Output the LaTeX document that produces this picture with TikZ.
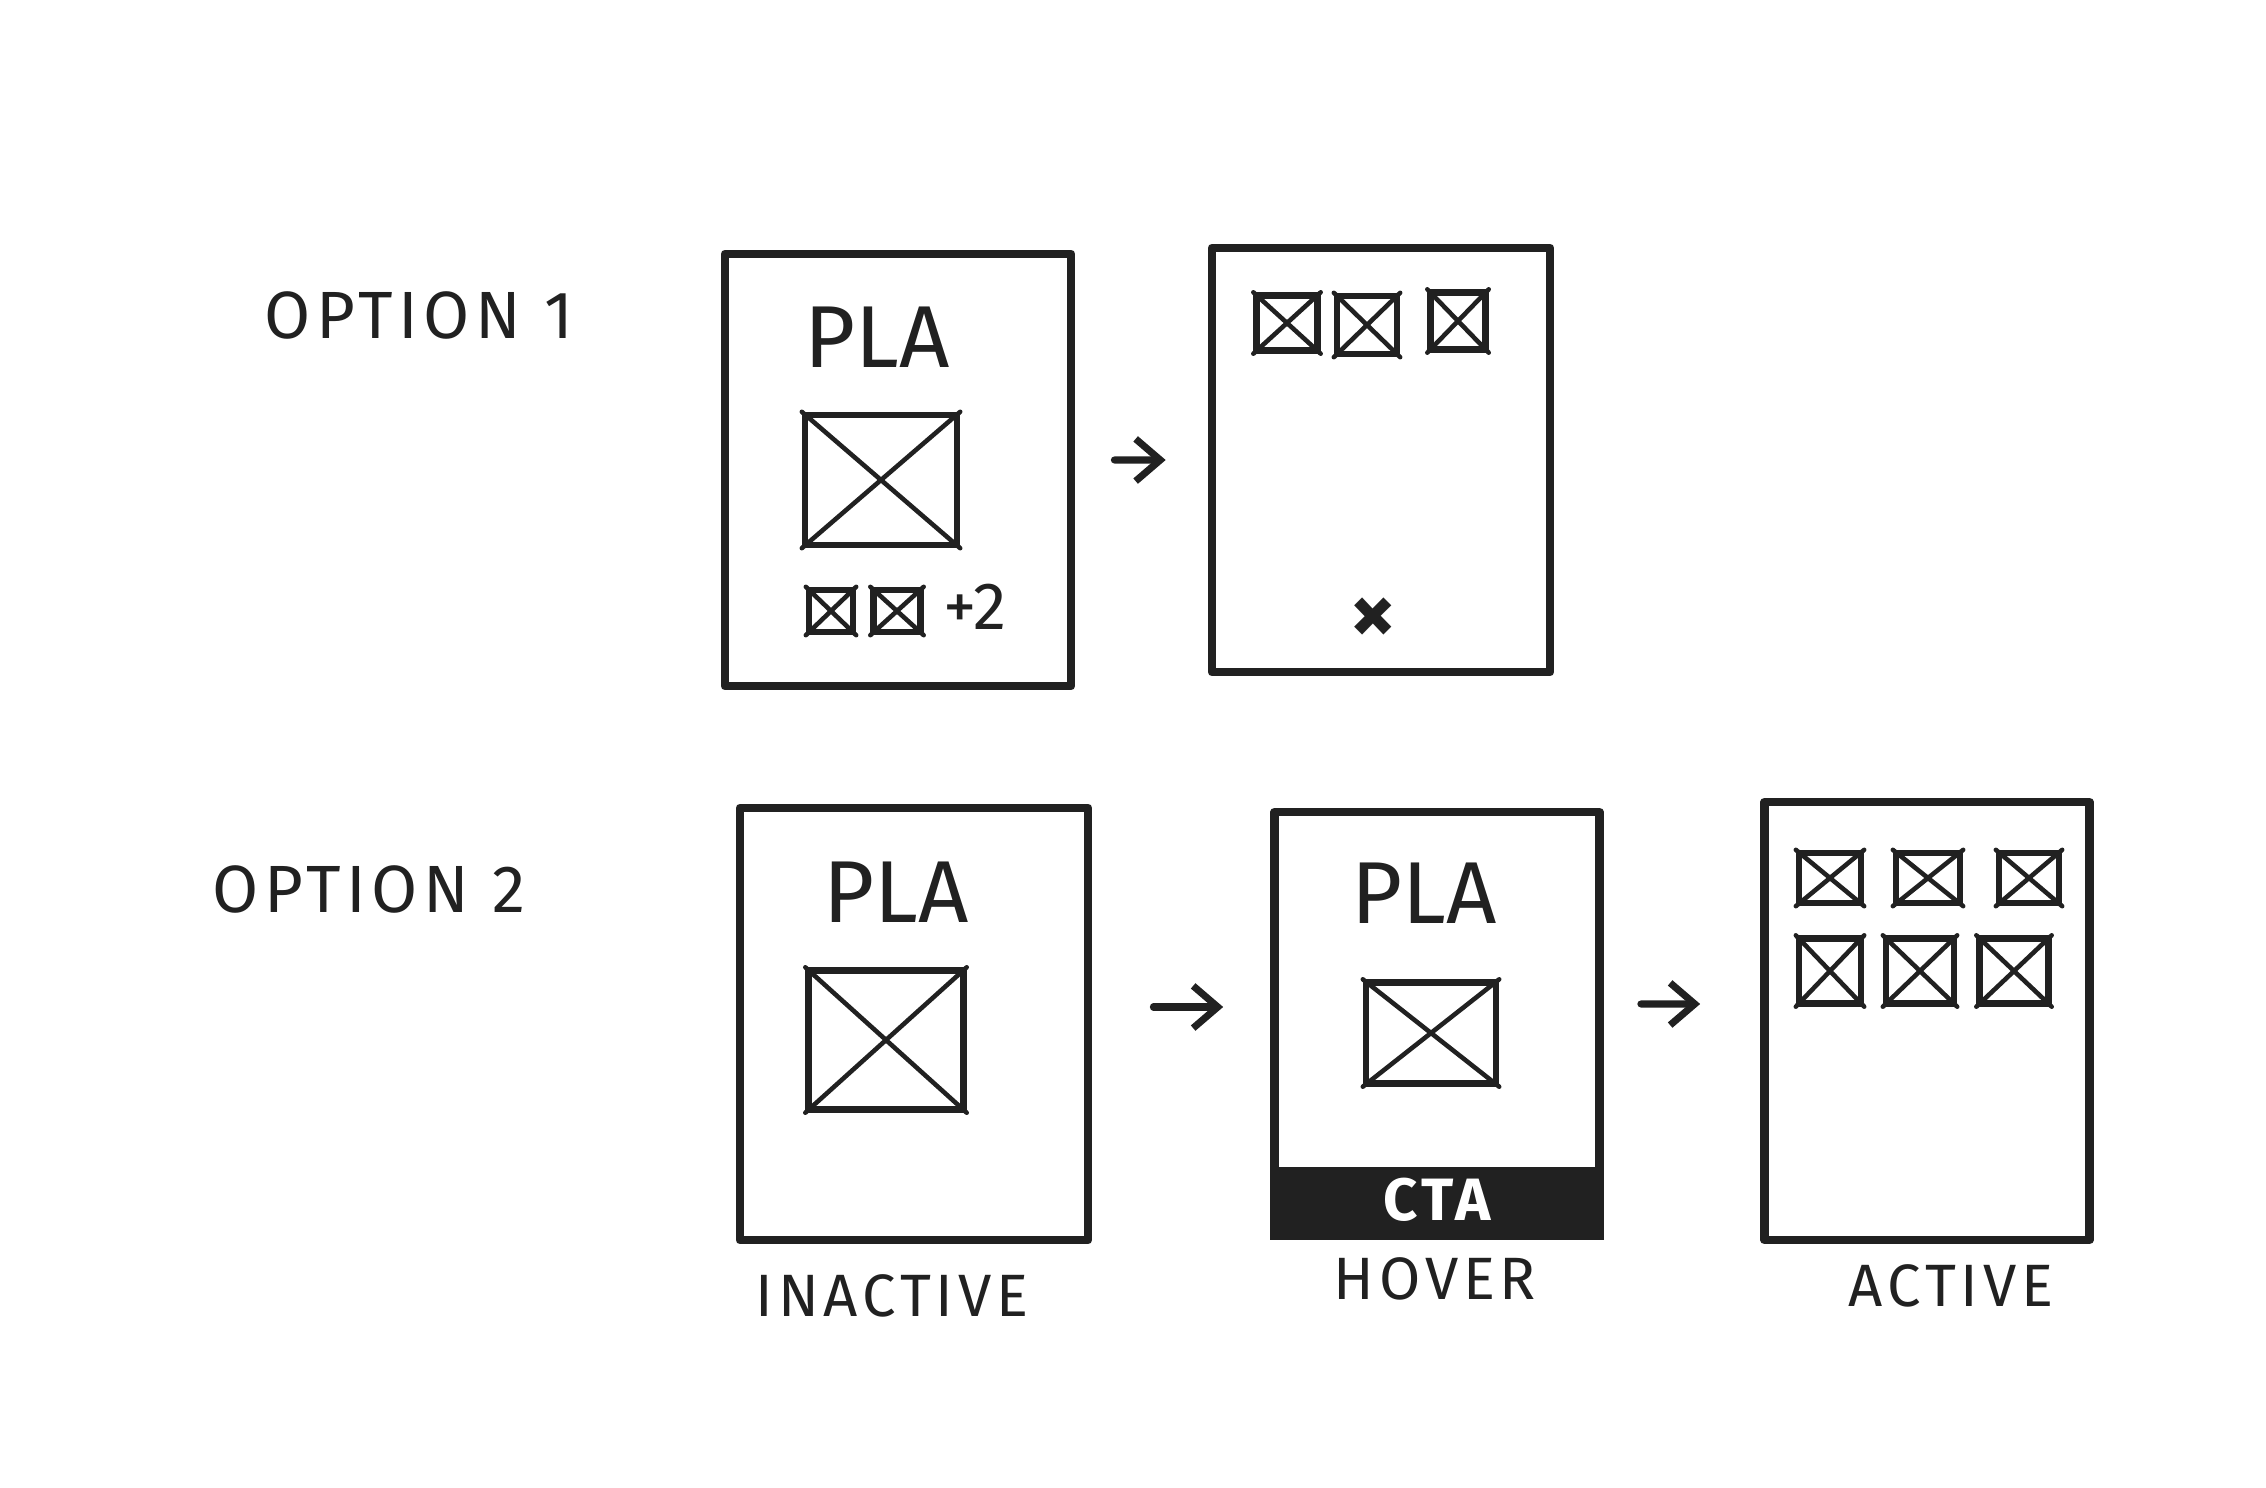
\documentclass[tikz,border=0pt]{standalone}
\usepackage{fontspec}
\setmainfont{Fira Sans}
\newfontfamily\hand[LetterSpace=8]{Fira Sans}
\usetikzlibrary{arrows.meta}
\definecolor{ink}{gray}{0.13}
\newcommand{\phbox}[5]{%
  \node[ph,minimum width=#4cm,minimum height=#5cm] (#1) at (#2,#3) {};
  \draw[phx] (#1.north west) -- (#1.south east) (#1.north east) -- (#1.south west);}
\begin{document}
\begin{tikzpicture}[x=0.01cm,y=-0.01cm,
  card/.style={draw=ink,line width=2.4pt,line join=round,inner sep=0pt,rectangle},
  ph/.style={draw=ink,line width=1.8pt,line join=round,inner sep=0pt,rectangle},
  phx/.style={draw=ink,line width=1.3pt,line cap=round},
  arr/.style={draw=ink,line width=2pt,line cap=round,-{Straight Barb[length=7pt,width=12pt,line width=2pt]}},
  optlbl/.style={text=ink,font=\hand\fontsize{19}{22}\selectfont},
  statelbl/.style={text=ink,font=\hand\fontsize{17}{20}\selectfont},
  pla/.style={text=ink,font=\fontsize{25}{28}\selectfont}]
\useasboundingbox (0,0) rectangle (2266,1488);

% labels
\node[optlbl] (opt1) at (419,315) {OPTION 1};
\node[optlbl] (opt2) at (369,889) {OPTION 2};

% option 1
\node[card,minimum width=3.46cm,minimum height=4.32cm] (c1) at (898,470) {};
\node[pla] (pla1) at (877,337) {PLA};
\phbox{img1}{881}{480}{1.52}{1.30}
\phbox{s11}{831}{611}{0.44}{0.42}
\phbox{s12}{897}{611}{0.47}{0.42}
\node[text=ink,font=\fontsize{19}{21}\selectfont] (more) at (975,607) {+2};

\node[card,minimum width=3.38cm,minimum height=4.24cm] (c2) at (1381,460) {};
\phbox{t1}{1287}{323}{0.61}{0.55}
\phbox{t2}{1367}{325}{0.60}{0.58}
\phbox{t3}{1458}{321}{0.55}{0.57}
\node[text=ink,font=\bfseries\fontsize{26}{28}\selectfont] (close) at (1373,621) {×};

\draw[arr] ([xshift=0.39cm,yshift=0.1cm]c1.east) -- ([xshift=-0.42cm]c2.west);

% option 2
\node[card,minimum width=3.48cm,minimum height=4.32cm] (c3) at (914,1024) {};
\node[pla] (pla3) at (896,892) {PLA};
\phbox{img3}{886}{1040}{1.55}{1.39}

\node[card,minimum width=3.25cm,minimum height=4.24cm] (c4) at (1437,1024) {};
\fill[ink] (c4.south west) rectangle ([yshift=0.73cm]c4.south east);
\node[text=white,font=\hand\bfseries\fontsize{17}{20}\selectfont] (cta) at (1437,1200) {CTA};
\node[pla] (pla4) at (1424,893) {PLA};
\phbox{img4}{1431}{1033}{1.30}{1.01}

\node[card,minimum width=3.25cm,minimum height=4.38cm] (c5) at (1927,1021) {};
\phbox{g1}{1830}{878}{0.62}{0.50}
\phbox{g2}{1928}{878}{0.64}{0.50}
\phbox{g3}{2029}{878}{0.60}{0.50}
\phbox{g4}{1830}{971}{0.62}{0.65}
\phbox{g5}{1920}{971}{0.68}{0.65}
\phbox{g6}{2014}{971}{0.69}{0.65}

\draw[arr] ([xshift=0.61cm,yshift=0.17cm]c3.east) -- ([xshift=-0.47cm,yshift=0.17cm]c4.west);
\draw[arr] ([xshift=0.37cm,yshift=0.2cm]c4.east) -- ([xshift=-0.6cm,yshift=0.17cm]c5.west);

\node[statelbl] (inact) at (892,1296) {INACTIVE};
\node[statelbl] (hover) at (1435,1279) {HOVER};
\node[statelbl] (active) at (1951,1286) {ACTIVE};
\end{tikzpicture}
\end{document}
